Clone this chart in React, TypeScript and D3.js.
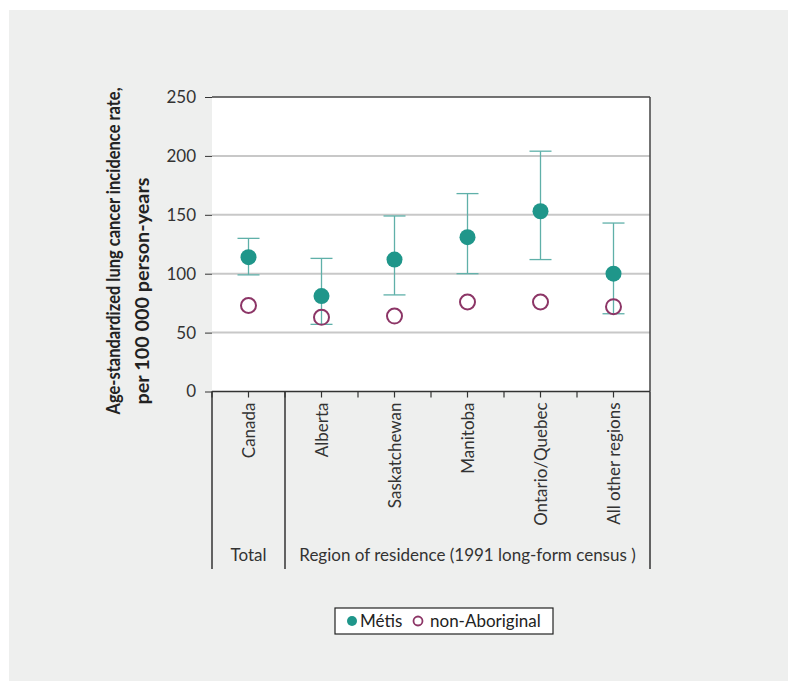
import React, { useRef, useEffect } from 'react';
import * as d3 from 'd3';

const categories = ['Canada', 'Alberta', 'Saskatchewan', 'Manitoba', 'Ontario/Quebec', 'All other regions'];
const metis = [114, 81, 112, 131, 153, 100];
const metisLow = [99, 57, 82, 100, 112, 66];
const metisHigh = [130, 113, 149, 168, 204, 143];
const nonAboriginal = [73, 63, 64, 76, 76, 72];
const yTicks = [0, 50, 100, 150, 200, 250];
const groups = [
  { label: 'Total', from: 0, to: 1 },
  { label: 'Region of residence (1991 long-form census )', from: 1, to: 6 },
];

const FONT = 'Lato, "Noto Sans", sans-serif';

const App = () => {
  const svgRef = useRef<SVGSVGElement>(null);

  useEffect(() => {
    document.body.style.margin = '0';
    const width = 798;
    const height = 691;
    const margin = { top: 97, right: 148, bottom: 300, left: 212 };

    const svg = d3.select(svgRef.current);
    svg.selectAll('*').remove();
    svg.attr('width', width).attr('height', height).style('font-family', FONT);

    // panel
    svg.append('rect').attr('x', 0).attr('y', 0).attr('width', width).attr('height', height).attr('fill', '#fff');
    svg.append('rect').attr('x', 9).attr('y', 10).attr('width', 779).attr('height', 671).attr('fill', '#eeefee');

    const x = d3.scaleBand().domain(categories).range([margin.left, width - margin.right]);
    const y = d3.scaleLinear().domain([0, 250]).range([height - margin.bottom + 0.5, margin.top]);
    const x0 = margin.left;
    const x1 = width - margin.right;
    const yBase = y(0);

    svg.append('rect').attr('x', x0).attr('y', y(250)).attr('width', x1 - x0).attr('height', yBase - y(250)).attr('fill', '#fff');

    // grid
    svg.append('g').selectAll('line').data(yTicks.filter((t) => t > 0 && t < 250)).join('line')
      .attr('x1', x0).attr('x2', x1).attr('y1', (d) => y(d)).attr('y2', (d) => y(d))
      .attr('stroke', '#c8c8c8').attr('stroke-width', 2);

    // y axis
    const yAxis = svg.append('g').attr('transform', `translate(${x0},0)`)
      .call(d3.axisLeft(y).tickValues(yTicks).tickSize(7).tickPadding(9));
    yAxis.select('.domain').remove();
    yAxis.selectAll('line').attr('stroke', '#333');
    yAxis.selectAll('text').attr('font-size', 17).attr('fill', '#333').attr('font-family', FONT);

    // frame
    svg.append('line').attr('x1', x0).attr('x2', x1).attr('y1', y(250)).attr('y2', y(250)).attr('stroke', '#444').attr('stroke-width', 1.5);
    svg.append('line').attr('x1', x1).attr('x2', x1).attr('y1', y(250)).attr('y2', yBase).attr('stroke', '#444').attr('stroke-width', 1.5);
    svg.append('line').attr('x1', x0).attr('x2', x1).attr('y1', yBase).attr('y2', yBase).attr('stroke', '#333').attr('stroke-width', 1.5);

    // x ticks at centers and boundaries
    const tickXs: number[] = [];
    categories.forEach((c) => {
      tickXs.push((x(c) as number) + x.bandwidth() / 2);
      tickXs.push(x(c) as number);
    });
    svg.append('g').selectAll('line').data(tickXs).join('line')
      .attr('x1', (d) => d).attr('x2', (d) => d).attr('y1', yBase).attr('y2', yBase + 6)
      .attr('stroke', '#333').attr('stroke-width', 1.2);

    // group separators
    const sepBottom = 569;
    const seps = [x0, x(categories[1]) as number, x1];
    svg.append('g').selectAll('line').data(seps).join('line')
      .attr('x1', (d) => d).attr('x2', (d) => d).attr('y1', yBase).attr('y2', sepBottom)
      .attr('stroke', '#333').attr('stroke-width', 1.5);

    // category labels
    svg.append('g').selectAll('text').data(categories).join('text')
      .attr('transform', (d) => `translate(${(x(d) as number) + x.bandwidth() / 2 + 6},${yBase + 11}) rotate(-90)`)
      .attr('text-anchor', 'end').attr('font-size', 17).attr('fill', '#333').text((d) => d);

    // group labels
    svg.append('g').selectAll('text').data(groups).join('text')
      .attr('x', (g) => {
        const a = x(categories[g.from]) as number;
        const b = g.to >= categories.length ? x1 : (x(categories[g.to]) as number);
        return (a + b) / 2;
      })
      .attr('y', 561).attr('text-anchor', 'middle').attr('font-size', 17).attr('fill', '#333').text((g) => g.label);

    // error bars
    const cx = (i: number) => (x(categories[i]) as number) + x.bandwidth() / 2;
    const eb = svg.append('g').attr('stroke', '#5fb0a9').attr('stroke-width', 1.3);
    categories.forEach((c, i) => {
      eb.append('line').attr('x1', cx(i)).attr('x2', cx(i)).attr('y1', y(metisLow[i])).attr('y2', y(metisHigh[i]));
      [metisLow[i], metisHigh[i]].forEach((v) => {
        eb.append('line').attr('x1', cx(i) - 11).attr('x2', cx(i) + 11).attr('y1', y(v)).attr('y2', y(v));
      });
    });

    // non-Aboriginal
    svg.append('g').selectAll('circle').data(nonAboriginal).join('circle')
      .attr('cx', (_d, i) => cx(i)).attr('cy', (d) => y(d)).attr('r', 7.5)
      .attr('fill', 'none').attr('stroke', '#8c3566').attr('stroke-width', 2);

    // Métis
    svg.append('g').selectAll('circle').data(metis).join('circle')
      .attr('cx', (_d, i) => cx(i)).attr('cy', (d) => y(d)).attr('r', 8)
      .attr('fill', '#1f968a');

    const yt = svg.append('g').attr('font-size', 19).attr('font-weight', 'bold').attr('fill', '#222');
    yt.append('text').attr('transform', 'translate(120,251) rotate(-90)').attr('text-anchor', 'middle')
      .attr('textLength', 327).attr('lengthAdjust', 'spacingAndGlyphs')
      .text('Age-standardized lung cancer incidence rate,');
    yt.append('text').attr('transform', 'translate(149,291) rotate(-90)').attr('text-anchor', 'middle')
      .attr('textLength', 227).attr('lengthAdjust', 'spacingAndGlyphs')
      .text('per 100 000 person-years');

    // legend
    const lg = svg.append('g').attr('transform', 'translate(335,608)');
    lg.append('rect').attr('width', 218).attr('height', 26).attr('fill', '#fff').attr('stroke', '#222').attr('stroke-width', 1.2);
    lg.append('circle').attr('cx', 17).attr('cy', 13).attr('r', 5).attr('fill', '#1f968a');
    lg.append('text').attr('x', 25).attr('y', 19).attr('font-size', 17).attr('fill', '#222').text('Métis');
    lg.append('circle').attr('cx', 83).attr('cy', 13).attr('r', 4.5).attr('fill', 'none').attr('stroke', '#8c3566').attr('stroke-width', 1.8);
    lg.append('text').attr('x', 95).attr('y', 19).attr('font-size', 17).attr('fill', '#222').text('non-Aboriginal');
  }, []);

  return <svg ref={svgRef} style={{ display: 'block' }} />;
};

export default App;
